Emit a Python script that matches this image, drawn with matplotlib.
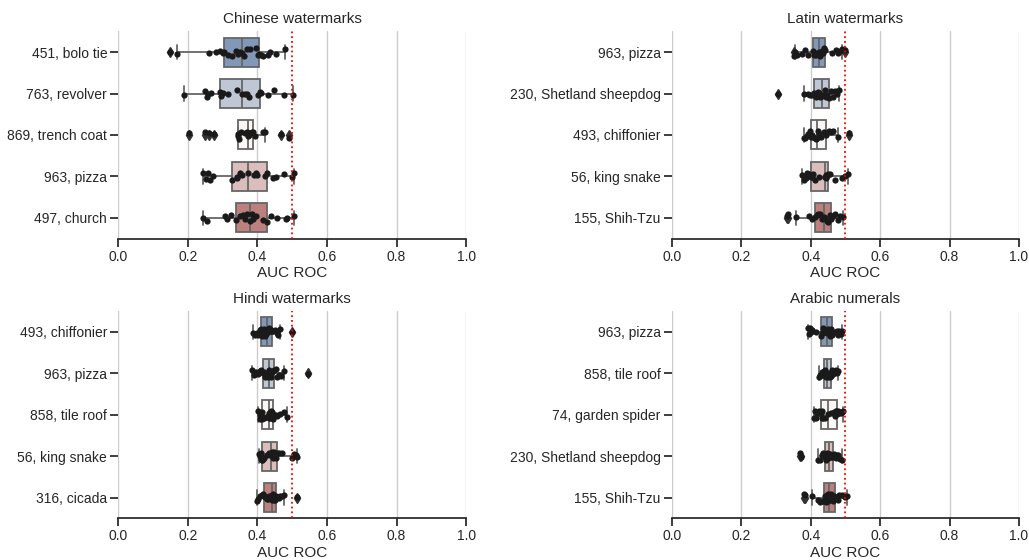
import matplotlib
matplotlib.use("Agg")
import matplotlib.pyplot as plt
import seaborn as sns
import numpy as np
import pandas as pd

sns.set_theme(style="ticks")
plt.rcParams['font.family'] = ['Liberation Sans', 'DejaVu Sans']

# --- Chinese watermarks ---
chinese_labels = ["451, bolo tie", "763, revolver", "869, trench coat", "963, pizza", "497, church"]
chinese_vals = [
    [0.149, 0.168, 0.262, 0.281, 0.292, 0.300, 0.305, 0.316, 0.326, 0.339, 0.345, 0.350, 0.355,
     0.360, 0.371, 0.380, 0.396, 0.403, 0.405, 0.410, 0.417, 0.429, 0.436, 0.454, 0.480],
    [0.190, 0.249, 0.255, 0.259, 0.266, 0.292, 0.295, 0.300, 0.316, 0.342, 0.355, 0.364, 0.371,
     0.377, 0.403, 0.407, 0.410, 0.431, 0.448, 0.475, 0.502],
    [0.204, 0.249, 0.262, 0.276, 0.343, 0.345, 0.347, 0.352, 0.365, 0.369, 0.372, 0.374, 0.376,
     0.379, 0.384, 0.386, 0.393, 0.417, 0.422, 0.467, 0.492],
    [0.243, 0.252, 0.258, 0.264, 0.273, 0.326, 0.340, 0.342, 0.350, 0.355, 0.374, 0.390, 0.396,
     0.400, 0.422, 0.428, 0.444, 0.454, 0.475, 0.499, 0.505],
    [0.243, 0.256, 0.307, 0.313, 0.323, 0.338, 0.350, 0.358, 0.364, 0.369, 0.379, 0.384, 0.388,
     0.395, 0.415, 0.427, 0.440, 0.457, 0.482, 0.486, 0.505],
]

# --- Latin watermarks ---
latin_labels = ["963, pizza", "230, Shetland sheepdog", "493, chiffonier", "56, king snake", "155, Shih-Tzu"]
latin_vals = [
    [0.352, 0.356, 0.360, 0.374, 0.384, 0.393, 0.406, 0.410, 0.412, 0.415, 0.419, 0.422, 0.425,
     0.427, 0.430, 0.432, 0.435, 0.438, 0.441, 0.462, 0.473, 0.480, 0.485, 0.489, 0.499],
    [0.307, 0.381, 0.392, 0.398, 0.404, 0.410, 0.415, 0.420, 0.425, 0.428, 0.432, 0.436, 0.440,
     0.444, 0.448, 0.453, 0.458, 0.465, 0.470, 0.477, 0.483],
    [0.381, 0.385, 0.389, 0.393, 0.397, 0.402, 0.404, 0.408, 0.412, 0.415, 0.419, 0.421, 0.425,
     0.430, 0.438, 0.444, 0.452, 0.458, 0.465, 0.480, 0.511],
    [0.374, 0.380, 0.386, 0.390, 0.396, 0.401, 0.404, 0.408, 0.412, 0.425, 0.441, 0.442, 0.443,
     0.445, 0.447, 0.449, 0.455, 0.470, 0.490, 0.500, 0.508],
    [0.333, 0.336, 0.357, 0.395, 0.405, 0.4125, 0.418, 0.422, 0.428, 0.432, 0.438, 0.442, 0.446,
     0.450, 0.455, 0.460, 0.465, 0.470, 0.478, 0.485, 0.494],
]

# --- Hindi watermarks ---
hindi_labels = ["493, chiffonier", "963, pizza", "858, tile roof", "56, king snake", "316, cicada"]
hindi_vals = [
    [0.387, 0.392, 0.398, 0.403, 0.407, 0.410, 0.4115, 0.414, 0.417, 0.419, 0.421, 0.424, 0.427,
     0.429, 0.431, 0.433, 0.436, 0.438, 0.441, 0.445, 0.450, 0.455, 0.460, 0.465, 0.500],
    [0.384, 0.390, 0.396, 0.401, 0.406, 0.411, 0.415, 0.418, 0.421, 0.424, 0.427, 0.429, 0.432,
     0.434, 0.437, 0.440, 0.443, 0.446, 0.448, 0.452, 0.457, 0.462, 0.468, 0.477, 0.544],
    [0.403, 0.406, 0.408, 0.410, 0.411, 0.412, 0.4125, 0.415, 0.420, 0.425, 0.429, 0.432, 0.4345,
     0.436, 0.438, 0.440, 0.441, 0.443, 0.444, 0.448, 0.452, 0.456, 0.465, 0.476, 0.486],
    [0.405, 0.407, 0.409, 0.410, 0.411, 0.413, 0.414, 0.416, 0.420, 0.428, 0.434, 0.437, 0.439,
     0.441, 0.443, 0.445, 0.448, 0.452, 0.4575, 0.463, 0.472, 0.500, 0.505, 0.510, 0.515],
    [0.398, 0.403, 0.408, 0.412, 0.415, 0.418, 0.420, 0.423, 0.427, 0.430, 0.434, 0.438, 0.441,
     0.443, 0.445, 0.447, 0.449, 0.451, 0.4537, 0.458, 0.462, 0.466, 0.470, 0.477, 0.513],
]

# --- Arabic numerals ---
arabic_labels = ["963, pizza", "858, tile roof", "74, garden spider", "230, Shetland sheepdog", "155, Shih-Tzu"]
arabic_vals = [
    [0.393, 0.396, 0.399, 0.402, 0.405, 0.415, 0.4288, 0.432, 0.436, 0.440, 0.442, 0.444, 0.446,
     0.448, 0.450, 0.452, 0.455, 0.458, 0.4605, 0.470, 0.476, 0.480, 0.483, 0.486, 0.489],
    [0.424, 0.427, 0.430, 0.432, 0.434, 0.436, 0.4384, 0.440, 0.442, 0.444, 0.445, 0.447, 0.448,
     0.450, 0.451, 0.453, 0.455, 0.456, 0.4576, 0.461, 0.464, 0.468, 0.472, 0.476, 0.4797],
    [0.4096, 0.412, 0.415, 0.418, 0.421, 0.424, 0.4288, 0.430, 0.432, 0.434, 0.437, 0.442, 0.451,
     0.460, 0.466, 0.470, 0.472, 0.474, 0.4768, 0.479, 0.481, 0.484, 0.487, 0.490, 0.494],
    [0.369, 0.371, 0.422, 0.427, 0.432, 0.437, 0.441, 0.443, 0.445, 0.447, 0.449, 0.451, 0.4537,
     0.455, 0.457, 0.459, 0.461, 0.463, 0.465, 0.468, 0.472, 0.476, 0.480, 0.485, 0.489],
    [0.381, 0.383, 0.403, 0.420, 0.428, 0.434, 0.4384, 0.441, 0.444, 0.447, 0.449, 0.451, 0.4537,
     0.456, 0.458, 0.460, 0.463, 0.466, 0.470, 0.474, 0.478, 0.482, 0.490, 0.500, 0.5037],
]

panels = [
    ("Chinese watermarks", chinese_labels, chinese_vals, [0.115, 0.574, 0.338, 0.370]),
    ("Latin watermarks", latin_labels, latin_vals, [0.6528, 0.574, 0.3375, 0.370]),
    ("Hindi watermarks", hindi_labels, hindi_vals, [0.115, 0.0745, 0.338, 0.370]),
    ("Arabic numerals", arabic_labels, arabic_vals, [0.6528, 0.0745, 0.3375, 0.370]),
]

np.random.seed(0)
fig = plt.figure(figsize=(10.29, 5.6), dpi=100)

for title, labels, vals, rect in panels:
    ax = fig.add_axes(rect)
    rows = []
    for lab, v in zip(labels, vals):
        for x in v:
            rows.append((lab, x))
    df = pd.DataFrame(rows, columns=["cls", "auc"])

    sns.boxplot(data=df, x="auc", y="cls", hue="cls", order=labels, hue_order=labels,
                palette="vlag", width=0.7, legend=False, ax=ax,
                linecolor=".4", linewidth=1.3,
                flierprops=dict(marker="d", markersize=5,
                                markerfacecolor=".2", markeredgecolor=".2"))
    sns.stripplot(data=df, x="auc", y="cls", order=labels, size=4.5, color=".1",
                  linewidth=0, ax=ax)
    ax.axvline(0.5, color="red", linestyle=":", linewidth=1.3, zorder=10)

    ax.set_xlim(0, 1)
    ax.set_xticks([0.0, 0.2, 0.4, 0.6, 0.8, 1.0])
    ax.xaxis.grid(True)
    ax.set_axisbelow(True)
    ax.set_ylabel("")
    ax.set_xlabel("AUC ROC", fontsize=11, labelpad=2)
    ax.set_title(title, fontsize=11)
    ax.tick_params(labelsize=10, pad=2)
    sns.despine(ax=ax, left=True)

fig.savefig("out.png", dpi=100)
